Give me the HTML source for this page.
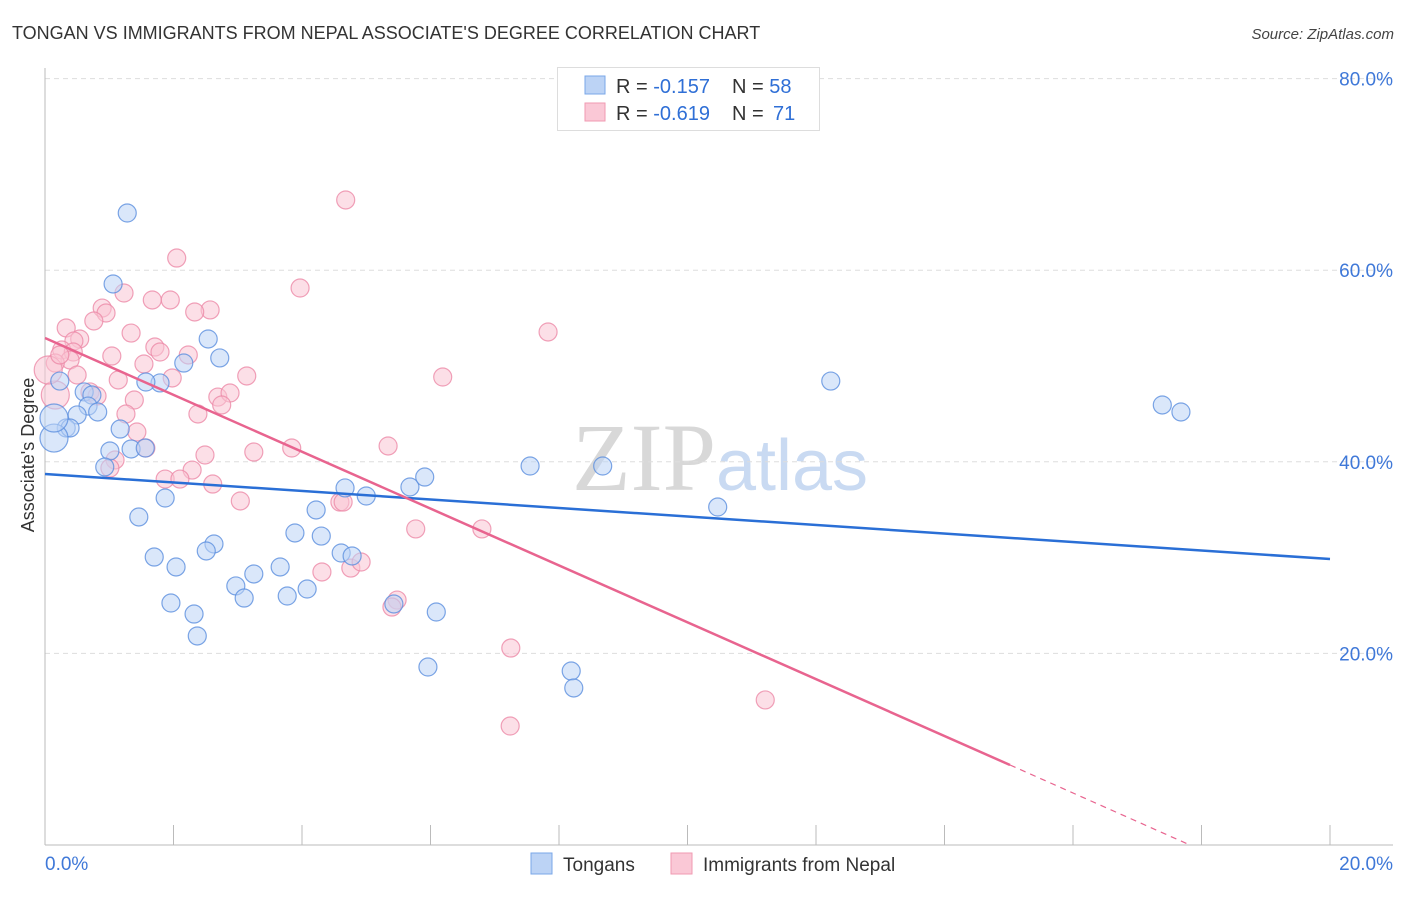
<!DOCTYPE html>
<html><head><meta charset="utf-8"><style>
body{margin:0;background:#fff;font-family:"Liberation Sans",sans-serif;}
svg text{font-family:"Liberation Sans",sans-serif;}
</style></head><body>
<svg id="chart" width="1406" height="892" xmlns="http://www.w3.org/2000/svg">
<text x="12" y="39" font-size="18" fill="#333">TONGAN VS IMMIGRANTS FROM NEPAL ASSOCIATE'S DEGREE CORRELATION CHART</text>
<text x="1394" y="39" font-size="15" fill="#444" text-anchor="end" font-style="italic">Source: ZipAtlas.com</text>
<text x="720" y="490" font-size="96" text-anchor="middle"><tspan fill="#d8d8d8" font-family="Liberation Serif">ZIP</tspan><tspan fill="#c9daf2" font-size="72">atlas</tspan></text>
<g id="grid"></g><g id="axes"></g><g id="pinkPts"></g><g id="bluePts"></g><g id="trends"></g>
<text transform="translate(34,455) rotate(-90)" font-size="18" fill="#333" text-anchor="middle">Associate's Degree</text>
<g>
<rect x="557.5" y="67.5" width="262" height="63" fill="#fff" stroke="#ddd"/>
<rect x="585" y="76" width="20" height="18" fill="#bcd3f5" stroke="#7aa7e8"/>
<rect x="585" y="103" width="20" height="18" fill="#fac8d6" stroke="#f09ab2"/>
<text x="616" y="93" font-size="20" fill="#333">R = <tspan fill="#2f6fd6">-0.157</tspan><tspan x="732">N = </tspan><tspan fill="#2f6fd6">58</tspan></text>
<text x="616" y="120" font-size="20" fill="#333">R = <tspan fill="#2f6fd6">-0.619</tspan><tspan x="732">N = </tspan><tspan fill="#2f6fd6" x="773">71</tspan></text>
</g>
<g>
<rect x="531" y="853" width="21" height="21" fill="#bcd3f5" stroke="#7aa7e8"/>
<text x="563" y="871" font-size="19" fill="#333">Tongans</text>
<rect x="671" y="853" width="21" height="21" fill="#fac8d6" stroke="#f09ab2"/>
<text x="703" y="871" font-size="19" fill="#333">Immigrants from Nepal</text>
</g>
</svg>
<script>
const blueX=[1.28,1.06,2.54,2.72,2.16,1.79,1.57,0.23,0.61,0.73,0.67,0.82,0.50,0.33,0.39,1.17,0.14,1.01,1.34,1.56,0.93,1.87,1.46,1.70,2.04,2.63,2.51,1.96,2.32,2.37,2.97,3.25,3.10,3.66,3.77,4.08,3.89,4.30,4.22,4.67,5.00,4.61,4.78,5.68,5.91,5.43,6.09,5.96,7.55,8.68,8.19,8.23,10.47,12.23,17.39,17.68,0.14];
const blueY=[65.97,58.56,52.82,50.84,50.31,48.23,48.33,48.43,47.29,46.97,45.82,45.20,44.89,43.53,43.53,43.42,42.48,41.13,41.34,41.44,39.46,36.22,34.24,30.06,29.02,31.42,30.69,25.26,24.11,21.82,27.04,28.29,25.78,29.02,25.99,26.72,32.57,32.25,34.97,37.27,36.43,30.48,30.17,37.37,38.41,25.16,24.32,18.58,39.56,39.56,18.16,16.39,35.28,48.43,45.93,45.20,44.57];
const blueLarge=[16,56];
const pinkX=[4.68,2.05,3.97,1.23,1.67,1.95,2.57,2.33,0.89,0.95,0.76,0.33,1.34,0.54,0.45,1.71,1.79,2.23,0.26,0.44,0.39,1.04,1.54,0.16,0.50,3.14,1.14,1.98,2.69,2.88,2.75,0.70,0.81,1.39,2.38,1.26,7.83,6.19,1.43,1.57,5.34,3.84,3.25,2.49,1.09,1.01,2.29,1.87,2.10,2.61,3.04,4.59,4.64,5.77,6.80,4.31,4.76,4.92,5.48,5.40,7.25,7.24,11.21,0.16,0.05,0.23];
const pinkY=[67.33,61.27,58.14,57.62,56.89,56.89,55.85,55.64,56.05,55.53,54.70,53.97,53.44,52.82,52.61,51.98,51.46,51.15,51.67,51.46,50.63,51.04,50.21,50.31,49.06,48.96,48.54,48.75,46.76,47.18,45.93,47.29,46.87,46.45,44.99,44.99,53.55,48.85,43.11,41.44,41.65,41.44,41.02,40.71,40.19,39.35,39.14,38.20,38.20,37.68,35.91,35.80,35.80,32.99,32.99,28.50,28.91,29.54,25.57,24.84,20.56,12.42,15.14,46.97,49.58,51.15];
const pinkLarge=[63,64];
const blueTrend=[[0,38.73],[20,29.85]];
const pinkTrend=[[0,52.92],[15.02,8.35]];
const pinkDash=[[15.02,8.35],[17.82,0]];
const yTicks=[20,40,60,80];
const yTickLabels=["20.0%","40.0%","60.0%","80.0%"];
const xTicks=[0,2,4,6,8,10,12,14,16,18,20];

const NS="http://www.w3.org/2000/svg";
const sx=v=>45+v*64.25, sy=v=>845-v*9.58;
function mk(tag,attrs,parent){const e=document.createElementNS(NS,tag);for(const k in attrs)e.setAttribute(k,attrs[k]);document.getElementById(parent).appendChild(e);return e;}
yTicks.forEach((t,i)=>{
 const g=mk('line',{x1:45,x2:1393,y1:sy(t),y2:sy(t),stroke:'#ddd','stroke-dasharray':'5,4'},'grid');
 
 
 const l=mk('text',{x:1393,y:sy(t)+7,'font-size':19,fill:'#3f78d8','text-anchor':'end'},'grid');
 l.textContent=yTickLabels[i];
 
 
});
const ya=mk('line',{x1:45,x2:45,y1:68,y2:845,stroke:'#bbb'},'axes');


const xa=mk('line',{x1:45,x2:1393,y1:845,y2:845,stroke:'#bbb'},'axes');


xTicks.forEach(t=>{
 const tk=mk('line',{x1:sx(t),x2:sx(t),y1:825,y2:845,stroke:'#bbb'},'axes');
 
 
});
const x0=mk('text',{x:45,y:870,'font-size':19,fill:'#3f78d8'},'axes');x0.textContent='0.0%';


const x1=mk('text',{x:1393,y:870,'font-size':19,fill:'#3f78d8','text-anchor':'end'},'axes');x1.textContent='20.0%';


function pts(X,Y,big,parent,fill,stroke,name){
 X.forEach((x,i)=>{
  const c=mk('circle',{cx:sx(x),cy:sy(Y[i]),r:big.includes(i)?14:9,fill:fill,'fill-opacity':0.55,stroke:stroke,'stroke-width':1.2,'stroke-opacity':0.8},parent);
  
  
 });
}
pts(pinkX,pinkY,pinkLarge,'pinkPts','#f9c4d3','#ec8aa8','nepal-point');
pts(blueX,blueY,blueLarge,'bluePts','#bcd3f5','#5b8fdf','tongan-point');
function line(T,color,name,dash){
 const l=mk('line',{x1:sx(T[0][0]),y1:sy(T[0][1]),x2:sx(T[1][0]),y2:sy(T[1][1]),stroke:color,'stroke-width':dash?1.2:2.5},'trends');
 if(dash)l.setAttribute('stroke-dasharray','6,5');
 
 
}
line(blueTrend,'#2a6fd6','tongan-trend-line');
line(pinkTrend,'#e8648f','nepal-trend-line');
line(pinkDash,'#e8648f','nepal-trend-extension',true);
</script>
</body></html>
